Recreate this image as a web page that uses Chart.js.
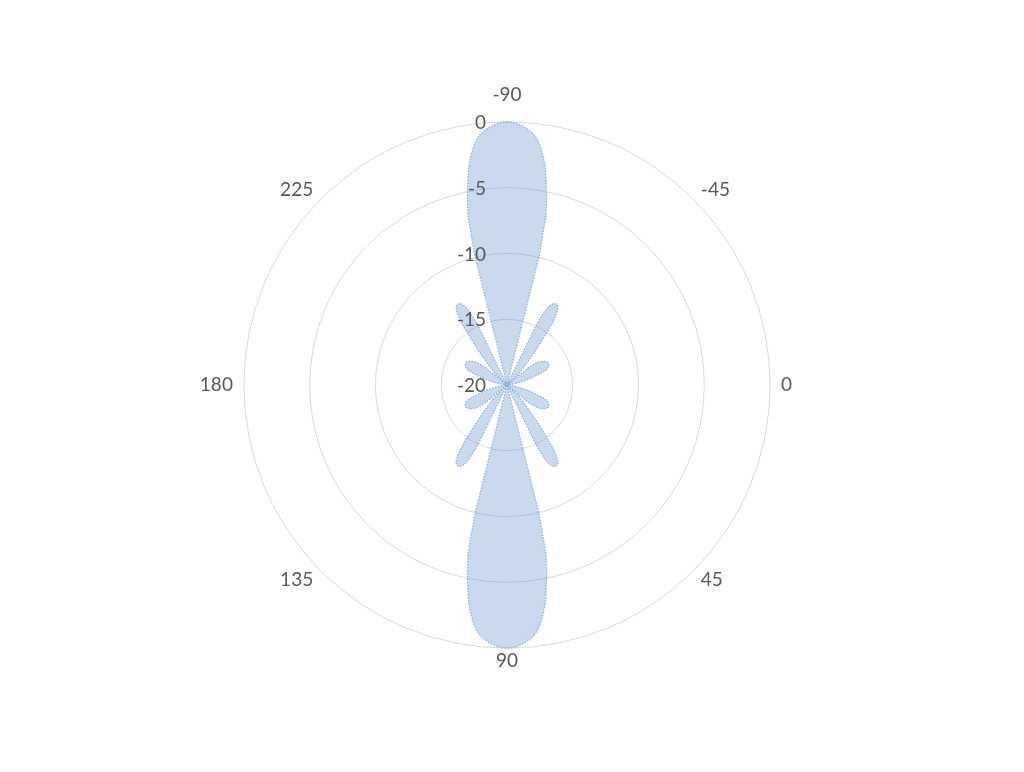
<!DOCTYPE html>
<html>
<head>
<meta charset="utf-8">
<script src="https://cdn.jsdelivr.net/npm/chart.js@4.4.1/dist/chart.umd.min.js"></script>
<style>
  html, body { margin: 0; padding: 0; background: #ffffff; }
  #wrap { width: 1024px; height: 772px; }
</style>
</head>
<body>
<div id="wrap"><canvas id="c" width="1024" height="772"></canvas></div>
<script>
// Angle categories (degrees), -90 .. 269, clockwise from the top
const angles = [];
for (let a = -90; a < 270; a++) angles.push(a);

// Angle labels that are shown
const angleLabels = ['-90', '-45', '0', '45', '90', '135', '180', '225'];

// Radial tick labels (dB)
const radialTicks = [0, -5, -10, -15, -20];

// Pattern values (dB), by angle range
// -90 .. -1
const gainTopRight = [
  0, -0.02, -0.1, -0.22, -0.38, -0.58, -0.8, -1.15, -1.7, -2.4,
  -3.2, -4.35, -5.5, -6.8, -9.9, -20, -20, -20, -20, -20,
  -20, -20, -20, -20, -20, -20, -14.8, -13.7, -13.25, -13.0,
  -12.85, -12.8, -12.8, -12.9, -13.1, -13.5, -14.0, -14.8, -15.6, -16.2,
  -16.8, -17.3, -17.7, -18.0, -18.3, -18.6, -18.9, -20, -20, -20,
  -20, -17.9, -17.5, -17.2, -17.0, -16.9, -16.8, -16.7, -16.6, -16.55,
  -16.5, -16.45, -16.45, -16.45, -16.45, -16.5, -16.55, -16.6, -16.7, -16.8,
  -17.0, -17.3, -17.6, -17.8, -18.0, -18.3, -18.5, -18.7, -18.9, -19.1,
  -19.3, -19.5, -19.7, -19.8, -19.9, -20, -20, -20, -20, -20
];
// 0 .. 89
const gainBottomRight = [
  -20, -20, -20, -20, -20, -20, -19.9, -19.8, -19.7, -19.5,
  -19.3, -19.1, -18.9, -18.7, -18.5, -18.3, -18.0, -17.8, -17.6, -17.3,
  -17.0, -16.8, -16.7, -16.6, -16.55, -16.5, -16.45, -16.45, -16.45, -16.45,
  -16.5, -16.55, -16.6, -16.7, -16.8, -16.9, -17.0, -17.2, -17.5, -17.9,
  -20, -20, -20, -20, -18.9, -18.6, -18.3, -18.0, -17.7, -17.3,
  -16.8, -16.2, -15.6, -14.8, -14.0, -13.5, -13.1, -12.9, -12.8, -12.8,
  -12.85, -13.0, -13.25, -13.7, -14.8, -20, -20, -20, -20, -20,
  -20, -20, -20, -20, -20, -20, -9.9, -6.8, -5.5, -4.35,
  -3.2, -2.4, -1.7, -1.15, -0.8, -0.58, -0.38, -0.22, -0.1, -0.02
];
// 90 .. 179
const gainBottomLeft = [
  0, -0.02, -0.1, -0.22, -0.38, -0.58, -0.8, -1.15, -1.7, -2.4,
  -3.2, -4.35, -5.5, -6.8, -9.9, -20, -20, -20, -20, -20,
  -20, -20, -20, -20, -20, -20, -14.8, -13.7, -13.25, -13.0,
  -12.85, -12.8, -12.8, -12.9, -13.1, -13.5, -14.0, -14.8, -15.6, -16.2,
  -16.8, -17.3, -17.7, -18.0, -18.3, -18.6, -18.9, -20, -20, -20,
  -20, -17.9, -17.5, -17.2, -17.0, -16.9, -16.8, -16.7, -16.6, -16.55,
  -16.5, -16.45, -16.45, -16.45, -16.45, -16.5, -16.55, -16.6, -16.7, -16.8,
  -17.0, -17.3, -17.6, -17.8, -18.0, -18.3, -18.5, -18.7, -18.9, -19.1,
  -19.3, -19.5, -19.7, -19.8, -19.9, -20, -20, -20, -20, -20
];
// 180 .. 269
const gainTopLeft = [
  -20, -20, -20, -20, -20, -20, -19.9, -19.8, -19.7, -19.5,
  -19.3, -19.1, -18.9, -18.7, -18.5, -18.3, -18.0, -17.8, -17.6, -17.3,
  -17.0, -16.8, -16.7, -16.6, -16.55, -16.5, -16.45, -16.45, -16.45, -16.45,
  -16.5, -16.55, -16.6, -16.7, -16.8, -16.9, -17.0, -17.2, -17.5, -17.9,
  -20, -20, -20, -20, -18.9, -18.6, -18.3, -18.0, -17.7, -17.3,
  -16.8, -16.2, -15.6, -14.8, -14.0, -13.5, -13.1, -12.9, -12.8, -12.8,
  -12.85, -13.0, -13.25, -13.7, -14.8, -20, -20, -20, -20, -20,
  -20, -20, -20, -20, -20, -20, -9.9, -6.8, -5.5, -4.35,
  -3.2, -2.4, -1.7, -1.15, -0.8, -0.58, -0.38, -0.22, -0.1, -0.02
];

const gain = gainTopRight.concat(gainBottomRight, gainBottomLeft, gainTopLeft);

const FONT = 'Lato, Carlito, Calibri, "Open Sans", sans-serif';
const TEXT_COLOR = '#595959';

const tickLabelPlugin = {
  id: 'tickLabels',
  afterDatasetsDraw(chart) {
    const r = chart.scales.r;
    const ctx = chart.ctx;
    ctx.save();
    ctx.font = '19px ' + FONT;
    ctx.fillStyle = TEXT_COLOR;
    ctx.textAlign = 'right';
    ctx.textBaseline = 'middle';
    radialTicks.forEach(v => {
      const p = r.getPointPositionForValue(0, v);
      ctx.fillText(String(v), r.xCenter - 21, p.y + 1);
    });
    ctx.restore();
  }
};

new Chart(document.getElementById('c'), {
  type: 'radar',
  data: {
    labels: angles,
    datasets: [{
      data: gain,
      fill: 'start',
      backgroundColor: 'rgba(79,129,200,0.3)',
      borderColor: 'rgba(120,160,220,0.8)',
      borderWidth: 1.3,
      borderDash: [1.5, 1.5],
      pointRadius: 0,
      pointHoverRadius: 0,
      tension: 0
    }]
  },
  options: {
    responsive: false,
    devicePixelRatio: 1,
    animation: false,
    events: [],
    layout: { padding: { top: 87, bottom: 103, left: 0, right: 10 } },
    plugins: { legend: { display: false }, tooltip: { enabled: false } },
    scales: {
      r: {
        min: -20,
        max: 0,
        ticks: { display: false, stepSize: 5 },
        grid: { circular: true, color: '#d9d9d9', lineWidth: 1 },
        angleLines: { display: false },
        pointLabels: {
          display: true,
          padding: (ctx) => ctx.index === 0 ? 26 : (ctx.index === 180 ? 12 : 11),
          color: TEXT_COLOR,
          font: { family: FONT, size: 19, lineHeight: 0.1 },
          callback: (label) => angleLabels.includes(String(label)) ? String(label) : ''
        }
      }
    }
  },
  plugins: [tickLabelPlugin]
});
</script>
</body>
</html>
